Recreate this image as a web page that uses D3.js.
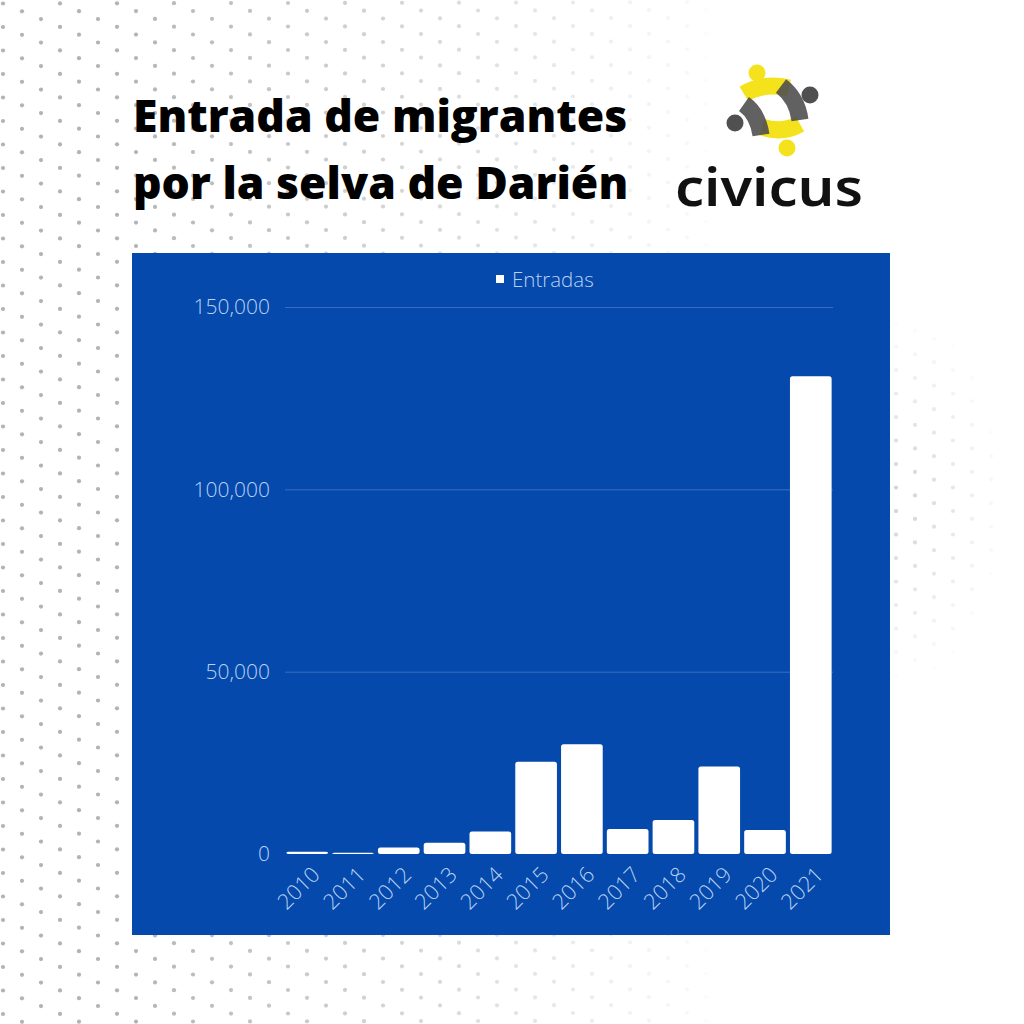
<!DOCTYPE html>
<html>
<head>
<meta charset="utf-8">
<script src="https://cdn.jsdelivr.net/npm/d3@7"></script>
<style>
  body { margin: 0; background: #fff; }
  svg { display: block; }
</style>
</head>
<body>
<div id="chart"></div>
<script>
// Values
const years = ["2010","2011","2012","2013","2014","2015","2016","2017","2018","2019","2020","2021"];
const entradas = [650, 350, 1750, 3100, 6150, 25300, 30100, 6850, 9300, 24000, 6550, 131000];
const yTicks = [0, 50000, 100000, 150000];
const seriesName = "Entradas";
const titleLines = ["Entrada de migrantes", "por la selva de Darién"];

const W = 1024, H = 1024;
const blue = "#0449ab";
const labelCol = "#b9d1f2";

const svg = d3.select("#chart").append("svg")
  .attr("width", W)
  .attr("height", H);

// Background dot texture (decorative)
const dots = svg.append("g");
for (let i = 0; i < 56; i++) {
  for (let j = -6; j < 46; j++) {
    const x = 3 + 19 * i;
    const y = 27 + 7.8 * i + 23.5 * j - 23.5 * Math.floor(7.8 * i / 23.5);
    if (y < -5 || y > H + 5) continue;
    let op = Math.max(0, 1 - Math.max(0, x - 120) / 620);
    // faint cluster at right of the panel
    const dx = (x - 900) / 110, dy = (y - 500) / 190;
    const op2 = Math.max(0, 1 - Math.sqrt(dx * dx + dy * dy)) * 0.6;
    op = Math.max(op, op2);
    if (op <= 0.03) continue;
    dots.append("circle")
      .attr("cx", x).attr("cy", y).attr("r", 2.1)
      .attr("fill", "#b3b3b3")
      .attr("opacity", op);
  }
}

// Title
svg.append("g").selectAll("text")
  .data(titleLines).enter().append("text")
  .attr("x", 133)
  .attr("y", (d, i) => 132 + i * 67)
  .attr("font-family", "'Open Sans', sans-serif")
  .attr("font-weight", 800)
  .attr("font-size", 44.5)
  .attr("fill", "#000")
  .text(d => d);

// Logo
const yellow = "#f3e21c", grey = "#505050";
const logo = svg.append("g");
logo.append("path")
  .attr("d", "M744,94 Q764,82 789,88")
  .attr("stroke", yellow).attr("stroke-width", 17).attr("fill", "none");
logo.append("path")
  .attr("d", "M762,127 Q782,134 800,124")
  .attr("stroke", yellow).attr("stroke-width", 17).attr("fill", "none");
logo.append("circle").attr("cx", 757).attr("cy", 73).attr("r", 8.5).attr("fill", yellow);
logo.append("circle").attr("cx", 787).attr("cy", 148).attr("r", 8.5).attr("fill", yellow);
logo.append("path")
  .attr("d", "M744,104 Q758,114 761,135")
  .attr("stroke", grey).attr("stroke-width", 17).attr("fill", "none").attr("opacity", 0.9);
logo.append("path")
  .attr("d", "M781,86 Q797,98 800,120")
  .attr("stroke", grey).attr("stroke-width", 17).attr("fill", "none").attr("opacity", 0.9);
logo.append("circle").attr("cx", 735).attr("cy", 123).attr("r", 8.5).attr("fill", grey);
logo.append("circle").attr("cx", 810).attr("cy", 95).attr("r", 8.5).attr("fill", grey);
logo.append("text")
  .attr("x", 675).attr("y", 206)
  .attr("font-family", "'Noto Sans', sans-serif")
  .attr("font-weight", 600)
  .attr("font-size", 52)
  .attr("textLength", 188)
  .attr("lengthAdjust", "spacingAndGlyphs")
  .attr("fill", "#111")
  .text("civicus");

// Chart panel
svg.append("rect")
  .attr("x", 132).attr("y", 253)
  .attr("width", 758).attr("height", 682)
  .attr("fill", blue);

const x = d3.scaleBand()
  .domain(years)
  .range([285, 833])
  .paddingInner(0.09)
  .paddingOuter(0.03);

const y = d3.scaleLinear()
  .domain([0, 150000])
  .range([854, 307]);

// Gridlines + y labels
const yAxis = svg.append("g")
  .attr("transform", "translate(285,0)")
  .call(d3.axisLeft(y).tickValues(yTicks).tickSize(-548).tickPadding(15).tickFormat(d3.format(",")));
yAxis.select(".domain").remove();
yAxis.selectAll(".tick line")
  .attr("stroke", "#3a6ec2")
  .attr("stroke-width", 1)
  .attr("opacity", d => d === 0 ? 0 : 1);
yAxis.selectAll(".tick text")
  .attr("fill", labelCol)
  .attr("font-family", "'Open Sans', sans-serif")
  .attr("font-weight", 300)
  .attr("font-size", 21);

// Bars
svg.append("g").selectAll("rect")
  .data(entradas).enter().append("rect")
  .attr("x", (d, i) => x(years[i]))
  .attr("y", d => y(d))
  .attr("width", x.bandwidth())
  .attr("height", d => y(0) - y(d))
  .attr("rx", 2.5)
  .attr("fill", "#fff");

// X labels
const xAxis = svg.append("g")
  .attr("transform", "translate(0,854)")
  .call(d3.axisBottom(x).tickSize(0).tickPadding(0));
xAxis.select(".domain").remove();
xAxis.selectAll(".tick text")
  .attr("fill", labelCol)
  .attr("font-family", "'Open Sans', sans-serif")
  .attr("font-weight", 300)
  .attr("font-size", 21.5)
  .attr("text-anchor", "end")
  .attr("dy", 0)
  .attr("transform", "translate(14,22) rotate(-45)");

// Legend
const legend = svg.append("g");
legend.append("rect")
  .attr("x", 496).attr("y", 275)
  .attr("width", 8).attr("height", 8)
  .attr("fill", "#fff");
legend.append("text")
  .attr("x", 512).attr("y", 287)
  .attr("font-family", "'Open Sans', sans-serif")
  .attr("font-weight", 300)
  .attr("font-size", 20.5)
  .attr("fill", labelCol)
  .text(seriesName);
</script>
</body>
</html>
